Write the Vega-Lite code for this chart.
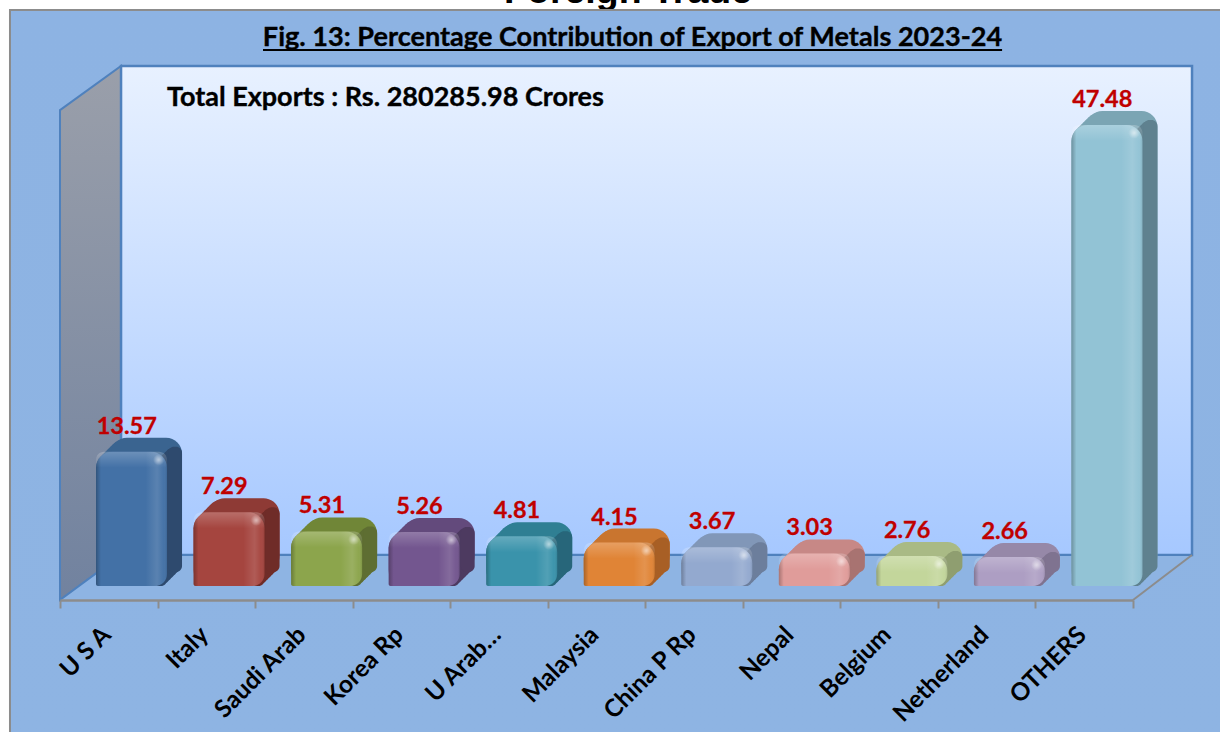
{
"$schema":"https://vega.github.io/schema/vega-lite/v6.json",
"width":1220,"height":732,"padding":0,"autosize":{"type":"none"},"background":"white",
"config":{"view":{"stroke":null}},
"datasets":{
"bars":[{"country":"U S A","value":13.57},{"country":"Italy","value":7.29},{"country":"Saudi Arab","value":5.31},{"country":"Korea Rp","value":5.26},{"country":"U Arab…","value":4.81},{"country":"Malaysia","value":4.15},{"country":"China P Rp","value":3.67},{"country":"Nepal","value":3.03},{"country":"Belgium","value":2.76},{"country":"Netherland","value":2.66},{"country":"OTHERS","value":47.48}],
"leftwall":[{"u":0,"top":49.02,"bot":-1.8},{"u":0.626,"top":53.59,"bot":2.86}],
"floor":[{"u":0,"top":-1.8,"bot":-1.8},{"u":0.626,"top":2.86,"bot":-1.8},{"u":11.005,"top":2.86,"bot":-1.8},{"u":11.61,"top":2.86,"bot":2.86}]
},
"resolve":{"scale":{"x":"independent"}},
"layer":[
{"data":{"values":[{"t":"Foreign Trade"}]},"mark":{"type":"text","font":"Liberation Sans","fontWeight":"bold","fontSize":37.5,"align":"center","baseline":"alphabetic","color":"black"},
 "encoding":{"text":{"field":"t"},"x":{"datum":5.826,"type":"quantitative","scale":{"domain":[-0.6154,11.897]},"axis":null},"y":{"datum":60.12,"type":"quantitative","scale":{"domain":[-15.5,60.44],"nice":false,"zero":false},"axis":null}}},
{"data":{"values":[{"u1":-0.513,"u2":12.5,"v1":59.4,"v2":-17}]},"mark":{"type":"rect","clip":false,"stroke":"#8C8C8C","strokeWidth":2,"fill":{"gradient":"linear","x1":0,"y1":0,"x2":0,"y2":1,"stops":[{"offset":0,"color":"#8DB3E3"},{"offset":1,"color":"#8EB4E3"}]}},
 "encoding":{"x":{"field":"u1","type":"quantitative","scale":{"domain":[-0.6154,11.897],"nice":false,"zero":false},"axis":null},"x2":{"field":"u2"},"y":{"field":"v1","type":"quantitative","scale":{"domain":[-15.5,60.44],"nice":false,"zero":false},"axis":null},"y2":{"field":"v2"}}},
{"data":{"name":"leftwall"},"mark":{"type":"area","stroke":"#4F81BD","strokeWidth":2,"line":false,"fill":{"gradient":"linear","x1":0,"y1":0,"x2":0,"y2":1,"stops":[{"offset":0,"color":"#9A9FAA"},{"offset":1,"color":"#71829F"}]}},
 "encoding":{"x":{"field":"u","type":"quantitative","scale":{"domain":[-0.6154,11.897],"nice":false,"zero":false},"axis":null},"y":{"field":"top","type":"quantitative","scale":{"domain":[-15.5,60.44],"nice":false,"zero":false},"axis":null},"y2":{"field":"bot"}}},
{"data":{"values":[{"u1":0.626,"u2":11.61,"v1":53.59,"v2":2.86}]},"mark":{"type":"rect","stroke":"#4F81BD","strokeWidth":2.5,"fill":{"gradient":"linear","x1":0,"y1":0,"x2":0,"y2":1,"stops":[{"offset":0,"color":"#E8F1FF"},{"offset":1,"color":"#A6C8FF"}]}},
 "encoding":{"x":{"field":"u1","type":"quantitative","scale":{"domain":[-0.6154,11.897],"nice":false,"zero":false},"axis":null},"x2":{"field":"u2"},"y":{"field":"v1","type":"quantitative","scale":{"domain":[-15.5,60.44],"nice":false,"zero":false},"axis":null},"y2":{"field":"v2"}}},
{"data":{"name":"floor"},"mark":{"type":"area","fill":"#8EB4E3"},
 "encoding":{"x":{"field":"u","type":"quantitative","scale":{"domain":[-0.6154,11.897],"nice":false,"zero":false},"axis":null},"y":{"field":"top","type":"quantitative","scale":{"domain":[-15.5,60.44],"nice":false,"zero":false},"axis":null},"y2":{"field":"bot"}}},
{"data":{"values":[{"u":0,"v":-1.8},{"u":0.626,"v":2.86},{"u":11.61,"v":2.86}]},"mark":{"type":"line","color":"#4F81BD","strokeWidth":2},
 "encoding":{"x":{"field":"u","type":"quantitative","scale":{"domain":[-0.6154,11.897],"nice":false,"zero":false},"axis":null},"y":{"field":"v","type":"quantitative","scale":{"domain":[-15.5,60.44],"nice":false,"zero":false},"axis":null}}},
{"data":{"values":[{"u":11.005,"v":-1.8},{"u":11.61,"v":2.86}]},"mark":{"type":"line","color":"#8C8C8C","strokeWidth":2},
 "encoding":{"x":{"field":"u","type":"quantitative","scale":{"domain":[-0.6154,11.897],"nice":false,"zero":false},"axis":null},"y":{"field":"v","type":"quantitative","scale":{"domain":[-15.5,60.44],"nice":false,"zero":false},"axis":null}}},
{"data":{"values":[{"t":"Fig. 13: Percentage Contribution of Export of Metals 2023-24"}]},"mark":{"type":"text","font":"Lato","fontWeight":"bold","fontSize":27.1,"stroke":"black","strokeWidth":0.35,"align":"center","baseline":"middle","color":"black"},
 "encoding":{"text":{"field":"t"},"x":{"datum":5.872,"type":"quantitative","scale":{"domain":[-0.6154,11.897]},"axis":null},"y":{"datum":56.45,"type":"quantitative","scale":{"domain":[-15.5,60.44],"nice":false,"zero":false},"axis":null}}},
{"data":{"values":[{"u1":2.082,"u2":9.662,"v":55.25}]},"mark":{"type":"rule","color":"black","strokeWidth":2},
 "encoding":{"x":{"field":"u1","type":"quantitative","scale":{"domain":[-0.6154,11.897],"nice":false,"zero":false},"axis":null},"x2":{"field":"u2"},"y":{"field":"v","type":"quantitative","scale":{"domain":[-15.5,60.44],"nice":false,"zero":false},"axis":null}}},
{"data":{"values":[{"t":"Total Exports : Rs. 280285.98 Crores"}]},"mark":{"type":"text","font":"Lato","fontWeight":"bold","fontSize":27,"stroke":"black","strokeWidth":0.35,"align":"left","baseline":"middle","color":"black"},
 "encoding":{"text":{"field":"t"},"x":{"datum":1.097,"type":"quantitative","scale":{"domain":[-0.6154,11.897]},"axis":null},"y":{"datum":50.27,"type":"quantitative","scale":{"domain":[-15.5,60.44],"nice":false,"zero":false},"axis":null}}},
{"data":{"name":"bars"},
 "resolve":{"scale":{"color":"independent"}},
 "encoding":{
  "x":{"field":"country","type":"nominal","sort":null,"scale":{"type":"band","range":[60,1133],"paddingInner":0,"paddingOuter":0},
   "axis":{"title":null,"labelAngle":-45,"labelAlign":"right","labelBaseline":"middle","labelFont":"Lato","labelFontWeight":"bold","labelFontSize":24.5,"labelColor":"black","labelPadding":23,"labelOffset":-2,"tickBand":"extent","tickSize":8,"tickWidth":2,"tickColor":"#8C8C8C","domainColor":"#8C8C8C","domainWidth":2.5,"offset":-132,"grid":false,"zindex":1,"labelOverlap":false}},
  "y":{"field":"value","type":"quantitative","scale":{"domain":[-15.5,60.44],"nice":false,"zero":false},"axis":null}
 },
 "layer":[
  {"mark":{"type":"bar","width":71,"xOffset":22.75,"yOffset":0,"cornerRadius":16},"encoding":{"y2":{"datum":-0.353},"color":{"field":"country","sort":null,"legend":null,"scale":{"domain":["U S A","Italy","Saudi Arab","Korea Rp","U Arab…","Malaysia","China P Rp","Nepal","Belgium","Netherland","OTHERS"],"range":["#3A6490","#8E3A35","#708637","#634A7C","#2F7F93","#C9752F","#8197B8","#C78886","#A9BA85","#9688A8","#7BA5B4"]}}}},
  {"mark":{"type":"bar","width":71,"xOffset":25.25,"yOffset":-2.5,"y2Offset":-2.5,"cornerRadius":16},"encoding":{"y2":{"datum":-0.353},"color":{"field":"country","sort":null,"legend":null,"scale":{"domain":["U S A","Italy","Saudi Arab","Korea Rp","U Arab…","Malaysia","China P Rp","Nepal","Belgium","Netherland","OTHERS"],"range":["#3A6490","#8E3A35","#708637","#634A7C","#2F7F93","#C9752F","#8197B8","#C78886","#A9BA85","#9688A8","#7BA5B4"]}}}},
  {"mark":{"type":"bar","width":71,"xOffset":27.75,"yOffset":-5,"y2Offset":-5,"cornerRadius":16},"encoding":{"y2":{"datum":-0.353},"color":{"field":"country","sort":null,"legend":null,"scale":{"domain":["U S A","Italy","Saudi Arab","Korea Rp","U Arab…","Malaysia","China P Rp","Nepal","Belgium","Netherland","OTHERS"],"range":["#3A6490","#8E3A35","#708637","#634A7C","#2F7F93","#C9752F","#8197B8","#C78886","#A9BA85","#9688A8","#7BA5B4"]}}}},
  {"mark":{"type":"bar","width":71,"xOffset":30.25,"yOffset":-7.5,"y2Offset":-7.5,"cornerRadius":16},"encoding":{"y2":{"datum":-0.353},"color":{"field":"country","sort":null,"legend":null,"scale":{"domain":["U S A","Italy","Saudi Arab","Korea Rp","U Arab…","Malaysia","China P Rp","Nepal","Belgium","Netherland","OTHERS"],"range":["#3A6490","#8E3A35","#708637","#634A7C","#2F7F93","#C9752F","#8197B8","#C78886","#A9BA85","#9688A8","#7BA5B4"]}}}},
  {"mark":{"type":"bar","width":71,"xOffset":32.75,"yOffset":-10,"y2Offset":-10,"cornerRadius":16},"encoding":{"y2":{"datum":-0.353},"color":{"field":"country","sort":null,"legend":null,"scale":{"domain":["U S A","Italy","Saudi Arab","Korea Rp","U Arab…","Malaysia","China P Rp","Nepal","Belgium","Netherland","OTHERS"],"range":["#3A6490","#8E3A35","#708637","#634A7C","#2F7F93","#C9752F","#8197B8","#C78886","#A9BA85","#9688A8","#7BA5B4"]}}}},
  {"mark":{"type":"bar","width":71,"xOffset":35.25,"yOffset":-12.5,"y2Offset":-12.5,"cornerRadius":16},"encoding":{"y2":{"datum":-0.353},"color":{"field":"country","sort":null,"legend":null,"scale":{"domain":["U S A","Italy","Saudi Arab","Korea Rp","U Arab…","Malaysia","China P Rp","Nepal","Belgium","Netherland","OTHERS"],"range":["#3A6490","#8E3A35","#708637","#634A7C","#2F7F93","#C9752F","#8197B8","#C78886","#A9BA85","#9688A8","#7BA5B4"]}}}},
  {"mark":{"type":"bar","width":71,"xOffset":37.75,"yOffset":-14,"y2Offset":-14,"cornerRadius":16},"encoding":{"y2":{"datum":-0.353},"color":{"field":"country","sort":null,"legend":null,"scale":{"domain":["U S A","Italy","Saudi Arab","Korea Rp","U Arab…","Malaysia","China P Rp","Nepal","Belgium","Netherland","OTHERS"],"range":["#3A6490","#8E3A35","#708637","#634A7C","#2F7F93","#C9752F","#8197B8","#C78886","#A9BA85","#9688A8","#7BA5B4"]}}}},
  {"mark":{"type":"bar","width":14,"xOffset":51.25,"yOffset":9,"y2Offset":0,"cornerRadius":6},"encoding":{"y2":{"datum":-0.353},"color":{"field":"country","sort":null,"legend":null,"scale":{"domain":["U S A","Italy","Saudi Arab","Korea Rp","U Arab…","Malaysia","China P Rp","Nepal","Belgium","Netherland","OTHERS"],"range":["#2E4A6E","#6F2C28","#5E6E32","#4D3A60","#27667A","#A85F25","#6C7E9C","#A87371","#8F9E70","#7F7390","#5F818F"]}}}},
  {"mark":{"type":"bar","width":14,"xOffset":53.75,"yOffset":6.5,"y2Offset":-2.5,"cornerRadius":6},"encoding":{"y2":{"datum":-0.353},"color":{"field":"country","sort":null,"legend":null,"scale":{"domain":["U S A","Italy","Saudi Arab","Korea Rp","U Arab…","Malaysia","China P Rp","Nepal","Belgium","Netherland","OTHERS"],"range":["#2E4A6E","#6F2C28","#5E6E32","#4D3A60","#27667A","#A85F25","#6C7E9C","#A87371","#8F9E70","#7F7390","#5F818F"]}}}},
  {"mark":{"type":"bar","width":14,"xOffset":56.25,"yOffset":4,"y2Offset":-5,"cornerRadius":6},"encoding":{"y2":{"datum":-0.353},"color":{"field":"country","sort":null,"legend":null,"scale":{"domain":["U S A","Italy","Saudi Arab","Korea Rp","U Arab…","Malaysia","China P Rp","Nepal","Belgium","Netherland","OTHERS"],"range":["#2E4A6E","#6F2C28","#5E6E32","#4D3A60","#27667A","#A85F25","#6C7E9C","#A87371","#8F9E70","#7F7390","#5F818F"]}}}},
  {"mark":{"type":"bar","width":14,"xOffset":58.75,"yOffset":1.5,"y2Offset":-7.5,"cornerRadius":6},"encoding":{"y2":{"datum":-0.353},"color":{"field":"country","sort":null,"legend":null,"scale":{"domain":["U S A","Italy","Saudi Arab","Korea Rp","U Arab…","Malaysia","China P Rp","Nepal","Belgium","Netherland","OTHERS"],"range":["#2E4A6E","#6F2C28","#5E6E32","#4D3A60","#27667A","#A85F25","#6C7E9C","#A87371","#8F9E70","#7F7390","#5F818F"]}}}},
  {"mark":{"type":"bar","width":14,"xOffset":61.25,"yOffset":-1,"y2Offset":-10,"cornerRadius":6},"encoding":{"y2":{"datum":-0.353},"color":{"field":"country","sort":null,"legend":null,"scale":{"domain":["U S A","Italy","Saudi Arab","Korea Rp","U Arab…","Malaysia","China P Rp","Nepal","Belgium","Netherland","OTHERS"],"range":["#2E4A6E","#6F2C28","#5E6E32","#4D3A60","#27667A","#A85F25","#6C7E9C","#A87371","#8F9E70","#7F7390","#5F818F"]}}}},
  {"mark":{"type":"bar","width":14,"xOffset":63.75,"yOffset":-3.5,"y2Offset":-12.5,"cornerRadius":6},"encoding":{"y2":{"datum":-0.353},"color":{"field":"country","sort":null,"legend":null,"scale":{"domain":["U S A","Italy","Saudi Arab","Korea Rp","U Arab…","Malaysia","China P Rp","Nepal","Belgium","Netherland","OTHERS"],"range":["#2E4A6E","#6F2C28","#5E6E32","#4D3A60","#27667A","#A85F25","#6C7E9C","#A87371","#8F9E70","#7F7390","#5F818F"]}}}},
  {"mark":{"type":"bar","width":14,"xOffset":66.25,"yOffset":-5,"y2Offset":-14,"cornerRadius":6},"encoding":{"y2":{"datum":-0.353},"color":{"field":"country","sort":null,"legend":null,"scale":{"domain":["U S A","Italy","Saudi Arab","Korea Rp","U Arab…","Malaysia","China P Rp","Nepal","Belgium","Netherland","OTHERS"],"range":["#2E4A6E","#6F2C28","#5E6E32","#4D3A60","#27667A","#A85F25","#6C7E9C","#A87371","#8F9E70","#7F7390","#5F818F"]}}}},
  {"mark":{"type":"bar","width":71,"xOffset":22.75,"cornerRadiusTopLeft":16,"cornerRadiusTopRight":16,"cornerRadiusBottomRight":12,"cornerRadiusBottomLeft":2},"encoding":{"y2":{"datum":-0.353},"color":{"field":"country","sort":null,"legend":null,"scale":{"domain":["U S A","Italy","Saudi Arab","Korea Rp","U Arab…","Malaysia","China P Rp","Nepal","Belgium","Netherland","OTHERS"],"range":["#4371A6","#A5453F","#8CA54C","#73568F","#3A93AB","#E08436","#93A9CF","#E09C9A","#C3D69B","#AD9EC3","#92C3D5"]}}}},
  {"mark":{"type":"bar","width":71,"xOffset":22.75,"cornerRadiusTopLeft":16,"cornerRadiusTopRight":16,"cornerRadiusBottomRight":12,"cornerRadiusBottomLeft":2,"fill":{"gradient":"linear","x1":0,"y1":0,"x2":1,"y2":0,"stops":[{"offset":0,"color":"rgba(0,0,0,0.25)"},{"offset":0.07,"color":"rgba(0,0,0,0)"},{"offset":0.7,"color":"rgba(255,255,255,0)"},{"offset":0.86,"color":"rgba(255,255,255,0.12)"},{"offset":0.95,"color":"rgba(255,255,255,0.02)"},{"offset":1,"color":"rgba(0,0,0,0.1)"}]}},"encoding":{"y2":{"datum":-0.353}}},
  {"mark":{"type":"bar","width":71,"xOffset":22.75,"y2Offset":16,"cornerRadiusTopLeft":16,"cornerRadiusTopRight":16,"fill":{"gradient":"linear","x1":0,"y1":0,"x2":0,"y2":1,"stops":[{"offset":0,"color":"rgba(255,255,255,0.22)"},{"offset":1,"color":"rgba(255,255,255,0)"}]}},"encoding":{"y2":{"field":"value"}}},
  {"mark":{"type":"point","filled":true,"size":130,"shape":"circle","strokeWidth":0,"xOffset":50,"yOffset":8,"fillOpacity":1,"fill":{"gradient":"radial","stops":[{"offset":0,"color":"rgba(255,255,255,0.55)"},{"offset":1,"color":"rgba(255,255,255,0)"}]}}},
  {"mark":{"type":"text","font":"Lato","fontWeight":"bold","fontSize":23.5,"stroke":"#C00000","strokeWidth":0.3,"color":"#C00000","xOffset":18,"yOffset":-25,"baseline":"middle","align":"center"},"encoding":{"text":{"field":"value","format":".2f"}}}
 ]
}
]
}
